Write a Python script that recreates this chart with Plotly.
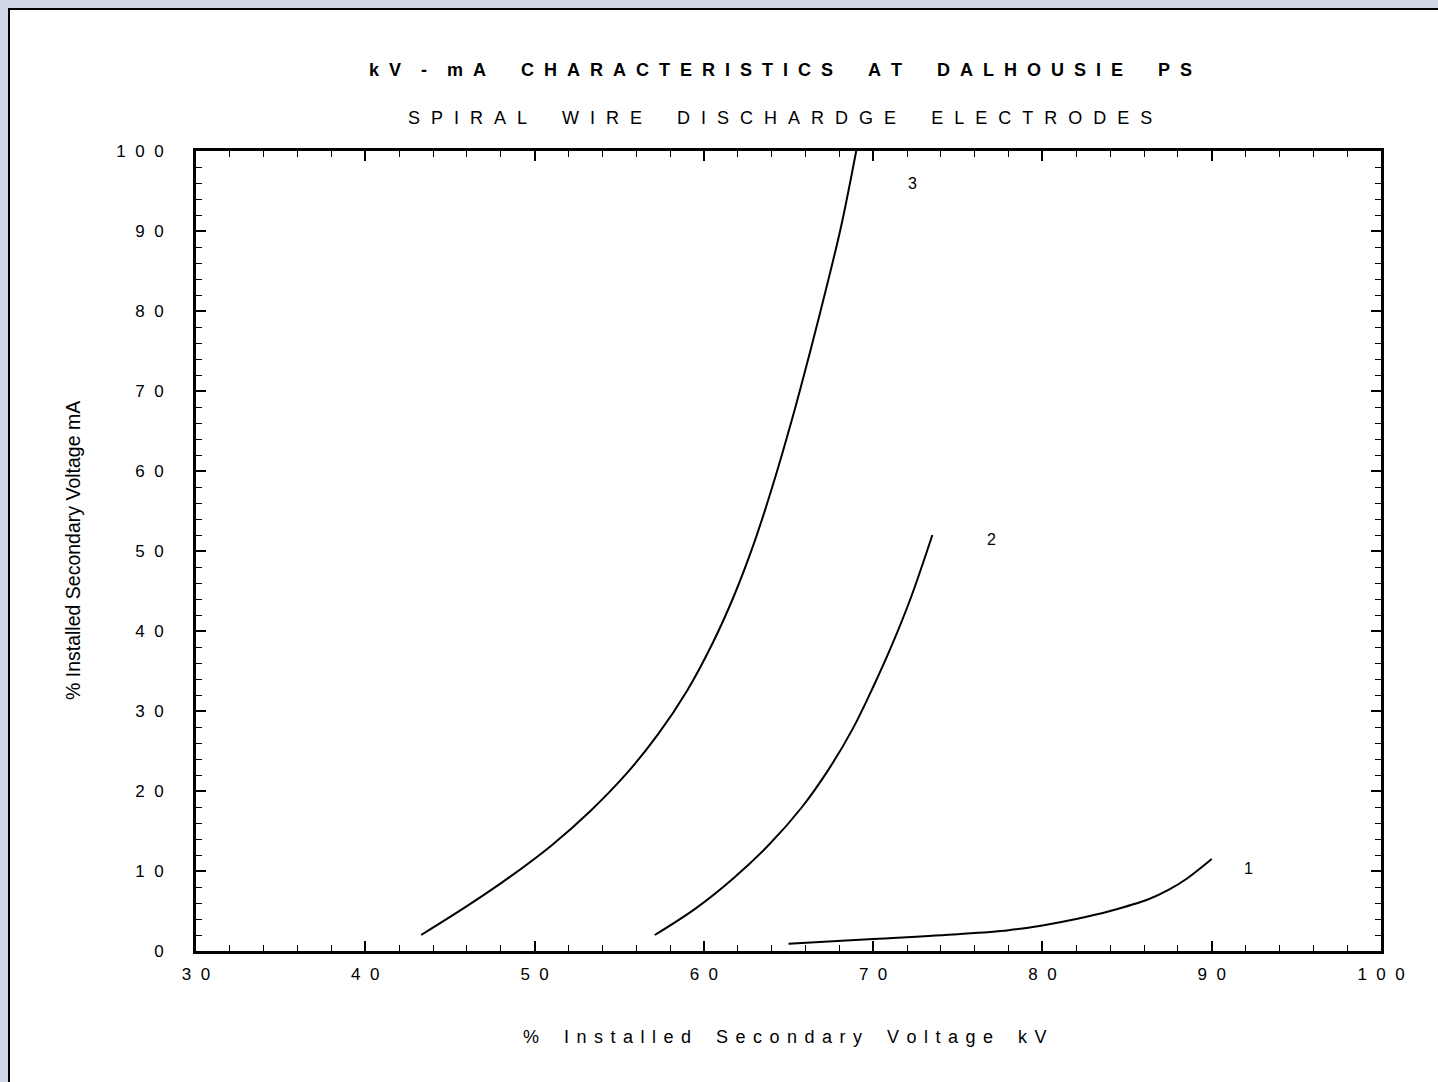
import plotly.graph_objects as go

# ---- data ----
x_ticks = [30, 40, 50, 60, 70, 80, 90, 100]
x_tick_digits = ["30", "40", "50", "60", "70", "80", "90", "100"]
y_ticks = [0, 10, 20, 30, 40, 50, 60, 70, 80, 90, 100]
y_tick_digits = ["0", "10", "20", "30", "40", "50", "60", "70", "80", "90", "100"]

curve1_kv = [65.0, 70.0, 75.0, 78.0, 80.0, 82.0, 84.0, 86.3, 87.5, 88.5, 90.0]
curve1_ma = [0.9, 1.5, 2.1, 2.6, 3.2, 4.0, 5.0, 6.5, 7.7, 9.0, 11.5]

curve2_kv = [57.1, 59.5, 61.8, 63.9, 65.8, 67.4, 68.8, 70.0, 71.1, 72.2, 73.5]
curve2_ma = [2.0, 5.3, 9.2, 13.4, 18.0, 22.8, 27.8, 33.0, 38.2, 44.0, 52.0]

curve3_kv = [43.3, 46.0, 48.5, 51.0, 53.3, 55.4, 57.3, 59.0, 60.5, 61.8, 63.0, 64.1, 65.2, 66.3, 67.2, 68.1, 69.0]
curve3_ma = [2.0, 5.6, 9.2, 13.2, 17.5, 22.1, 27.1, 32.5, 38.4, 44.5, 51.2, 58.4, 66.4, 75.1, 82.6, 90.5, 100.0]

curve_names = ["1", "2", "3"]
label_pos_kv = [92.2, 77.0, 72.3]
label_pos_ma = [10.3, 51.5, 95.9]

title_words = ["kV - mA", "CHARACTERISTICS", "AT", "DALHOUSIE", "PS"]
subtitle_words = ["SPIRAL", "WIRE", "DISCHARDGE", "ELECTRODES"]
x_title_words = ["%", "Installed", "Secondary", "Voltage", "kV"]
y_title = "% Installed Secondary Voltage mA"

FONT = "Liberation Sans, Arial, sans-serif"
NB = "\u00a0"


def spaced(words, letter_gap, word_gap, inner_word_gap=None):
    out = []
    for w in words:
        parts = w.split(" ")
        sep = inner_word_gap if inner_word_gap is not None else letter_gap
        out.append(sep.join(letter_gap.join(list(p)) for p in parts))
    return word_gap.join(out)


title_text = spaced(title_words, NB * 2, NB * 7, NB * 4)
subtitle_text = spaced(subtitle_words, NB + "\u2004", NB * 7)
x_title = spaced(x_title_words, "\u2005\u2006", NB * 5)
x_ticktext = [(NB * 2).join(list(s)) for s in x_tick_digits]
y_ticktext = [(NB * 2).join(list(s)) for s in y_tick_digits]

fig = go.Figure()
for kv, ma in [(curve1_kv, curve1_ma), (curve2_kv, curve2_ma), (curve3_kv, curve3_ma)]:
    fig.add_trace(go.Scatter(x=kv, y=ma, mode="lines",
                             line=dict(color="black", width=2, shape="spline", smoothing=1.0),
                             showlegend=False, hoverinfo="skip"))

W, H = 1430, 1074
OFF = 8  # page offset of the figure
L, R, T, B = 188, 57, 143, 131
pw, ph = W - L - R, H - T - B


def px_x(p):  # page pixel -> paper coordinate
    return (p - OFF - L) / pw


def px_y(p):
    return (H - B - (p - OFF)) / ph


annotations = []
for name, xv, yv in zip(curve_names, label_pos_kv, label_pos_ma):
    annotations.append(dict(x=xv, y=yv, xref="x", yref="y", text=name, showarrow=False,
                            xanchor="center", yanchor="middle",
                            font=dict(family=FONT, size=16, color="black")))

annotations += [
    dict(x=px_x(780.5), y=px_y(70), xref="paper", yref="paper", text=title_text, showarrow=False,
         xanchor="center", yanchor="middle",
         font=dict(family=FONT, size=18, color="black", weight="bold")),
    dict(x=px_x(780), y=px_y(118), xref="paper", yref="paper", text=subtitle_text, showarrow=False,
         xanchor="center", yanchor="middle",
         font=dict(family=FONT, size=18, color="black")),
    dict(x=px_x(784.5), y=px_y(1037), xref="paper", yref="paper", text=x_title, showarrow=False,
         xanchor="center", yanchor="middle",
         font=dict(family=FONT, size=18, color="black")),
    dict(x=px_x(73), y=px_y(551), xref="paper", yref="paper", text=y_title, showarrow=False,
         xanchor="center", yanchor="middle",
         textangle=-90, font=dict(family=FONT, size=19.5, color="black")),
]

shapes = [
    dict(type="line", xref="paper", yref="paper", x0=px_x(9), x1=px_x(9), y0=px_y(8), y1=px_y(1200),
         line=dict(color="black", width=2)),
    dict(type="line", xref="paper", yref="paper", x0=px_x(8), x1=px_x(1600), y0=px_y(9), y1=px_y(9),
         line=dict(color="black", width=2)),
]

axis_common = dict(
    showgrid=False, zeroline=False, showline=True, linecolor="black", linewidth=3,
    mirror="allticks", ticks="inside", ticklen=10, tickwidth=2, tickcolor="black",
    tickfont=dict(family=FONT, size=17, color="black"),
    minor=dict(ticks="inside", ticklen=6, tickwidth=1, tickcolor="black", dtick=2, showgrid=False),
)

fig.update_layout(
    width=W, height=H,
    margin=dict(l=L, r=R, t=T, b=B),
    paper_bgcolor="white", plot_bgcolor="white",
    xaxis=dict(range=[30, 100], tickmode="array", tickvals=x_ticks, ticktext=x_ticktext,
               ticklabelstandoff=6, **axis_common),
    yaxis=dict(range=[0, 100], tickmode="array", tickvals=y_ticks, ticktext=y_ticktext,
               ticklabelstandoff=26, **axis_common),
    annotations=annotations,
    shapes=shapes,
)

post = ("document.body.style.margin='8px 0 0 8px';"
        "document.body.style.overflow='hidden';"
        "document.documentElement.style.overflow='hidden';"
        "document.body.style.background='#d3d8e6';")
fig.write_html("out.html", post_script=post)
